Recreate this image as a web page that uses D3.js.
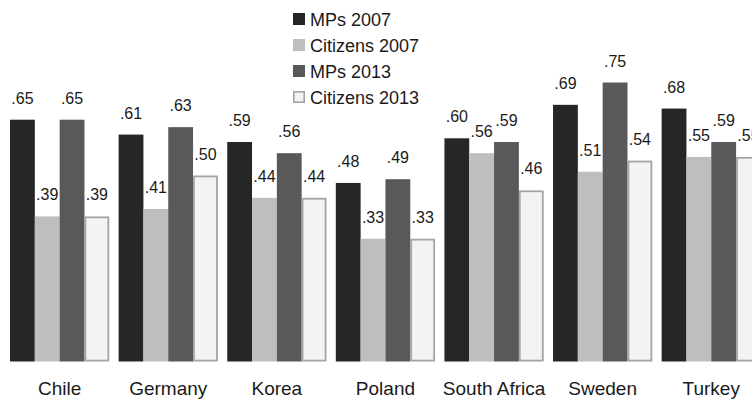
<!DOCTYPE html>
<html><head><meta charset="utf-8">
<script src="https://cdn.jsdelivr.net/npm/d3@7"></script>
<style>
html,body{margin:0;padding:0;background:#fff;}
svg{display:block;}
text{font-family:"Liberation Sans Narrow","Liberation Sans",Arial,sans-serif;fill:#1a1a1a;}
</style></head>
<body>
<svg id="chart" width="752" height="403"></svg>
<script>
const countries = ["Chile","Germany","Korea","Poland","South Africa","Sweden","Turkey"];
const seriesNames = ["MPs 2007","Citizens 2007","MPs 2013","Citizens 2013"];
const mps2007 = [0.65,0.61,0.59,0.48,0.60,0.69,0.68];
const citizens2007 = [0.39,0.41,0.44,0.33,0.56,0.51,0.55];
const mps2013 = [0.65,0.63,0.56,0.49,0.59,0.75,0.59];
const citizens2013 = [0.39,0.50,0.44,0.33,0.46,0.54,0.55];
const seriesValues = [mps2007,citizens2007,mps2013,citizens2013];
const fills = ["#252726","#bebebe","#595959","#f2f3f2"];
const strokes = [null,null,null,"#a4a4a4"];

const svg = d3.select("#chart");
const W = 752, H = 403;
const base = 361.5, k = 372;

const x0 = d3.scaleBand().domain(countries).range([10, 760.9]).paddingInner(0.086).paddingOuter(0);
const x1 = d3.scaleBand().domain(seriesNames).range([0, x0.bandwidth()]).padding(0);
const y = d3.scaleLinear().domain([0, 0.8]).range([base, base - 0.8*k]);

const fmt = v => d3.format(".2f")(v).replace(/^0/, "");

const groups = svg.selectAll("g.grp").data(countries).join("g")
  .attr("class","grp")
  .attr("transform", d => `translate(${x0(d)},0)`);

groups.each(function(c, ci){
  const g = d3.select(this);
  seriesNames.forEach((s, si) => {
    const v = seriesValues[si][ci];
    const r = g.append("rect")
      .attr("x", x1(s))
      .attr("y", y(v))
      .attr("width", x1.bandwidth())
      .attr("height", y(0) - y(v))
      .attr("fill", fills[si]);
    if (strokes[si]) {
      r.attr("x", x1(s)+0.9).attr("y", y(v)+0.9)
       .attr("width", x1.bandwidth()-1.8).attr("height", y(0)-y(v)-1.8)
       .attr("stroke", strokes[si]).attr("stroke-width", 1.8);
    }
    g.append("text")
      .attr("x", x1(s) + x1.bandwidth()/2)
      .attr("y", y(v) - 16)
      .attr("text-anchor","middle")
      .attr("font-size", 16)
      .text(fmt(v));
  });
});

// category labels
svg.append("g").selectAll("text").data(countries).join("text")
  .attr("x", d => x0(d) + x0.bandwidth()/2)
  .attr("y", 395)
  .attr("text-anchor","middle")
  .attr("font-size", 19)
  .text(d => d);

// legend
const leg = svg.append("g").attr("transform","translate(293,13)");
seriesNames.forEach((s, i) => {
  const row = leg.append("g").attr("transform", `translate(0,${i*26})`);
  const r = row.append("rect").attr("x",0).attr("y",0).attr("width",12).attr("height",12).attr("fill",fills[i]);
  if (strokes[i]) r.attr("x",0.8).attr("y",0.8).attr("width",10.4).attr("height",10.4).attr("stroke",strokes[i]).attr("stroke-width",1.6);
  row.append("text").attr("x",17).attr("y",12.5).attr("font-size",18).text(s);
});
</script>
</body></html>
